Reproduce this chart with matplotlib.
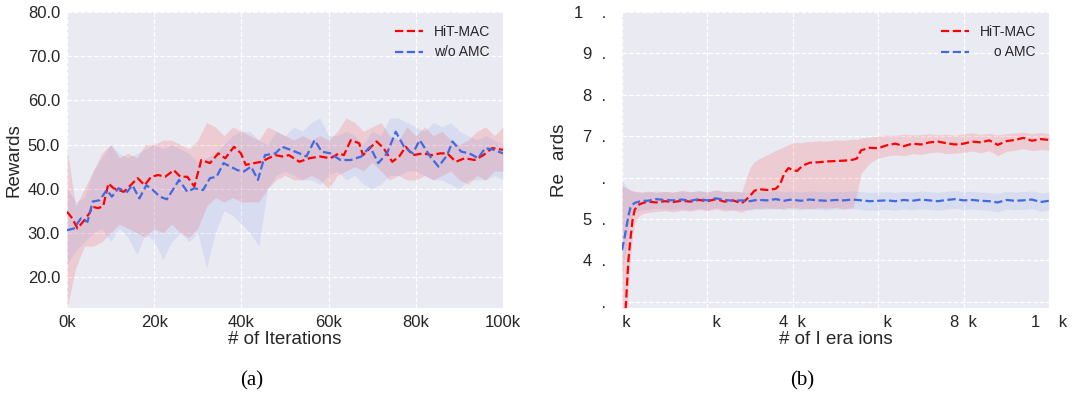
import matplotlib
matplotlib.use('Agg')
import matplotlib.pyplot as plt
import seaborn as sns

# ---- panel (a): rewards vs iterations (k) ----
hit_x = [0, 1.2, 2.4, 4.0, 5.1, 5.9, 7.1, 8.3, 9.5, 10.7, 13.0, 14.6, 16.2, 17.8, 19.3, 20.9,
         22.5, 24.5, 26.0, 27.6, 29.2, 30.8, 32.8, 34.7, 36.3, 38.3, 39.9, 41.0, 43.0, 44.6,
         46.2, 47.8, 49.3, 50.9, 53.3, 55.6, 58.0, 60.4, 62.4, 63.5, 65.1, 67.0, 67.9, 69.5,
         71.0, 72.6, 74.6, 76.2, 77.7, 79.3, 81.7, 83.7, 85.6, 87.2, 89.2, 91.2, 93.5, 95.5,
         97.5, 100]
hit_y = [34.8, 33.3, 31.0, 32.9, 34.4, 35.9, 35.6, 36.0, 41.2, 40.1, 39.3, 40.8, 42.4, 40.8,
         42.7, 43.1, 42.7, 44.2, 42.7, 42.7, 40.5, 46.5, 45.8, 48.0, 46.9, 49.5, 48.0, 45.4,
         45.8, 46.1, 46.9, 47.6, 47.3, 47.6, 46.1, 46.9, 47.3, 46.9, 48.0, 47.6, 51.0, 50.3,
         47.6, 49.2, 50.7, 49.2, 46.1, 47.3, 49.5, 47.6, 48.0, 47.6, 48.0, 48.0, 46.1, 46.9,
         46.5, 47.6, 49.2, 48.8]

amc_x = [0, 1.6, 3.2, 4.7, 5.9, 7.5, 9.1, 10.3, 11.8, 13.8, 15.0, 16.6, 18.2, 19.7, 21.3,
         22.9, 24.5, 25.7, 27.6, 29.2, 31.2, 32.8, 34.3, 35.9, 37.5, 39.1, 40.6, 42.2, 43.8,
         45.4, 47.8, 49.3, 51.3, 53.3, 54.9, 56.8, 58.4, 60.4, 62.7, 65.1, 67.5, 69.5, 71.4,
         73.4, 75.4, 77.3, 79.3, 80.9, 83.3, 85.2, 87.2, 88.4, 90.4, 92.3, 94.3, 95.9, 97.9, 100]
amc_y = [30.6, 31.0, 33.3, 32.5, 37.1, 37.4, 39.7, 38.2, 40.1, 39.3, 40.8, 37.8, 40.8, 39.7,
         38.2, 37.6, 40.1, 42.0, 39.3, 40.1, 39.7, 42.4, 42.7, 45.8, 45.0, 44.2, 43.9, 45.0,
         42.0, 47.6, 48.0, 49.5, 48.8, 48.0, 47.3, 51.0, 48.4, 48.0, 46.5, 46.5, 47.3, 49.5,
         45.8, 48.0, 52.9, 49.5, 48.0, 51.0, 47.3, 45.0, 47.6, 50.7, 48.4, 48.0, 46.9, 49.2,
         48.8, 48.0]

band_x = list(range(0, 101, 2))
hit_hi = [49, 36, 40, 44, 48, 50, 47, 48, 47, 50, 50, 51, 51, 50, 49, 51, 55, 54, 52, 54,
          53, 52, 51, 54, 53, 52, 51, 52, 51, 52, 51, 53, 56, 55, 53, 54, 55, 52, 51, 54,
          52, 54, 52, 53, 51, 50, 51, 53, 54, 52, 54]
hit_lo = [13, 22, 27, 27, 28, 30, 32, 31, 30, 29, 31, 30, 32, 30, 29, 31, 36, 38, 37, 38,
          37, 37, 37, 40, 42, 43, 42, 42, 43, 42, 40, 43, 44, 45, 44, 46, 44, 42, 43, 42,
          42, 43, 42, 43, 44, 42, 41, 43, 42, 44, 44]
amc_hi = [40, 37, 38, 44, 47, 50, 48, 47, 48, 49, 50, 49, 50, 49, 48, 46, 47, 48, 50, 52,
          53, 53, 51, 50, 53, 52, 54, 53, 55, 56, 52, 52, 53, 52, 50, 53, 52, 56, 56, 55,
          54, 53, 55, 54, 55, 53, 52, 51, 52, 51, 50]
amc_lo = [23, 26, 28, 30, 31, 28, 31, 29, 25, 30, 28, 24, 28, 30, 28, 30, 22, 30, 35, 34,
          32, 30, 27, 40, 43, 44, 43, 42, 42, 41, 43, 44, 42, 43, 41, 40, 41, 43, 43, 44,
          44, 43, 42, 42, 41, 40, 42, 42, 42, 43, 42]

# ---- panel (b) ----
xr = [0, 0.5, 1, 1.5, 2, 2.5, 3, 4, 5, 6, 8, 10, 12, 14, 16, 18, 20, 22, 24, 26, 28,
      29, 30, 31, 32, 34, 36, 37, 38, 39, 40, 41, 42, 43, 44, 46, 48, 50, 52, 54, 55, 56,
      58, 60, 62, 64, 66, 68, 70, 72, 74, 76, 78, 80, 82, 84, 86, 88, 90, 92, 94, 96, 98, 100]
hit_r = [14, 22, 31, 40, 45.5, 50, 52.3, 53.5, 53.9, 54.2, 54.0, 54.3, 54.1, 54.4, 54.2,
         54.6, 54.3, 54.8, 54.2, 54.5, 53.8, 54.6, 55.6, 56.8, 57.2, 57.0, 57.3, 58.3, 61.0,
         62.3, 61.8, 61.6, 62.6, 63.2, 63.6, 63.7, 63.9, 64.0, 64.1, 64.3, 64.6, 66.6, 67.2,
         67.1, 67.8, 68.2, 67.6, 68.2, 68.0, 68.5, 68.7, 68.3, 68.0, 68.2, 68.7, 68.5, 69.0,
         67.9, 68.8, 69.1, 69.6, 68.9, 69.3, 69.1]
amc_r = [42.5, 45, 47.8, 50.8, 52.8, 53.5, 53.9, 54.2, 54.4, 54.4, 54.8, 54.6, 54.5, 54.7,
         54.4, 54.8, 54.5, 55.0, 54.6, 54.4, 54.5, 54.4, 54.3, 54.5, 54.6, 54.5, 54.8, 54.6,
         54.4, 54.6, 54.7, 54.5, 54.4, 54.6, 54.7, 54.5, 54.4, 54.6, 54.5, 54.7, 54.6, 54.5,
         54.3, 54.4, 54.5, 54.3, 54.6, 54.4, 54.7, 54.5, 54.3, 54.6, 54.8, 54.5, 54.6, 54.4,
         54.3, 54.0, 54.6, 54.4, 54.5, 54.7, 54.1, 54.4]
hit_r_hi = [58.2, 57.8, 57.5, 57.2, 57.0, 56.8, 56.7, 56.6, 56.5, 56.8, 56.4, 56.7, 56.5,
            56.9, 56.6, 56.8, 56.5, 57.0, 56.6, 56.8, 56.5, 59.5, 62.5, 63.8, 64.5, 65.5,
            66.6, 67.0, 67.5, 68.0, 68.3, 68.5, 68.4, 68.7, 68.7, 68.9, 68.8, 69.1, 69.0,
            69.3, 69.2, 69.6, 69.8, 70.0, 70.3, 70.2, 70.5, 70.3, 70.4, 70.6, 70.3, 70.5,
            70.2, 70.6, 70.8, 70.4, 70.7, 70.3, 70.6, 70.8, 71.0, 70.6, 70.9, 70.6]
hit_r_lo = [5, 10, 22, 33, 41, 46, 49, 50.8, 51.3, 51.6, 51.8, 52.0, 51.7, 52.1, 51.9, 52.3,
            52.0, 52.4, 51.9, 52.2, 51.6, 52.2, 52.4, 52.6, 52.5, 52.7, 52.4, 52.6, 52.5,
            52.8, 52.6, 52.7, 52.5, 52.6, 52.4, 52.7, 52.6, 52.8, 52.5, 52.7, 56.0, 61.0,
            63.5, 64.7, 65.2, 65.5, 65.3, 65.8, 65.6, 66.0, 66.2, 65.8, 65.9, 66.1, 66.4,
            66.0, 66.5, 65.3, 66.3, 66.6, 67.0, 66.5, 66.8, 66.6]
amc_r_hi = [59.5, 58.5, 57.8, 57.3, 57.0, 56.8, 56.6, 56.4, 56.5, 56.5, 56.8, 56.6, 56.5,
            56.8, 56.5, 56.9, 56.6, 57.0, 56.7, 56.5, 56.6, 56.4, 56.4, 56.6, 56.7, 56.6,
            56.9, 56.7, 56.5, 56.7, 56.8, 56.6, 56.5, 56.7, 56.8, 56.6, 56.5, 56.7, 56.6,
            56.8, 56.7, 56.6, 56.4, 56.5, 56.6, 56.4, 56.7, 56.5, 56.8, 56.6, 56.4, 56.7,
            56.9, 56.6, 56.7, 56.5, 56.4, 56.2, 56.7, 56.5, 56.6, 56.8, 56.3, 56.5]
amc_r_lo = [36, 40, 44, 47.5, 50, 51, 51.5, 52, 52.3, 52.3, 52.6, 52.4, 52.3, 52.5, 52.2,
            52.6, 52.3, 52.8, 52.4, 52.2, 52.3, 52.2, 52.1, 52.3, 52.4, 52.3, 52.6, 52.4,
            52.2, 52.4, 52.5, 52.3, 52.2, 52.4, 52.5, 52.3, 52.2, 52.4, 52.3, 52.5, 52.4,
            52.3, 52.1, 52.2, 52.3, 52.1, 52.4, 52.2, 52.5, 52.3, 52.1, 52.4, 52.6, 52.3,
            52.4, 52.2, 52.1, 51.7, 52.4, 52.2, 52.3, 52.5, 51.8, 52.2]

xticks = [0, 20, 40, 60, 80, 100]
xlabels_a = ['0k', '20k', '40k', '60k', '80k', '100k']
yticks_a = [20, 30, 40, 50, 60, 70, 80]
ylabels_a = ['20.0', '30.0', '40.0', '50.0', '60.0', '70.0', '80.0']
# panel (b) is rendered with missing glyphs in the source picture
F = '\u2007'
xlabels_b = [F + 'k', F + F + 'k', '4' + F + 'k', F + F + 'k', '8' + F + 'k', '1' + F + F + 'k']
yticks_b = [30, 40, 50, 60, 70, 80, 90, 100]
ylabels_b = [F + F + '.' + F, '4' + F + '.' + F, '5' + F + '.' + F, F + F + '.' + F,
             '7' + F + '.' + F, '8' + F + '.' + F, '9' + F + '.' + F, '1' + F + F + '.' + F]

sns.set_style('darkgrid', {'grid.linestyle': '--'})
plt.rcParams['font.family'] = ['Liberation Sans', 'DejaVu Sans']
plt.rcParams['text.color'] = '.15'

RED = '#ff0000'
BLUE = '#4169e1'

fig = plt.figure(figsize=(10.72, 3.94), dpi=100)
ax1 = fig.add_axes([67 / 1072, 1 - 308 / 394, 436 / 1072, 296 / 394])
ax2 = fig.add_axes([622 / 1072, 1 - 308 / 394, 427 / 1072, 296 / 394])

for ax in (ax1, ax2):
    ax.grid(True, color='white', linestyle='--', linewidth=0.9)
    ax.tick_params(axis='both', labelsize=12, pad=5, colors='.15', length=0)
    for s in ax.spines.values():
        s.set_visible(False)

ax1.fill_between(band_x, hit_lo, hit_hi, color=RED, alpha=0.13, linewidth=0)
ax1.fill_between(band_x, amc_lo, amc_hi, color=BLUE, alpha=0.10, linewidth=0)
ax1.plot(hit_x, hit_y, '--', color=RED, lw=1.6, label='HiT-MAC')
ax1.plot(amc_x, amc_y, '--', color=BLUE, lw=1.6, label='w/o AMC')
ax1.set_xlim(0, 100)
ax1.set_ylim(13, 80)
ax1.set_xticks(xticks)
ax1.set_xticklabels(xlabels_a)
ax1.set_yticks(yticks_a)
ax1.set_yticklabels(ylabels_a)
ax1.set_xlabel('# of Iterations', fontsize=13.5, labelpad=1)
ax1.set_ylabel('Rewards', fontsize=13.5, labelpad=4)
ax1.legend(loc='upper right', frameon=False, fontsize=10)

ax2.fill_between(xr, hit_r_lo, hit_r_hi, color=RED, alpha=0.13, linewidth=0)
ax2.fill_between(xr, amc_r_lo, amc_r_hi, color=BLUE, alpha=0.10, linewidth=0)
ax2.plot(xr, hit_r, '--', color=RED, lw=1.6, label='HiT-MAC')
ax2.plot(xr, amc_r, '--', color=BLUE, lw=1.6, label='\u2003o AMC')
ax2.set_xlim(0, 100)
ax2.set_ylim(28.5, 100)
ax2.set_xticks(xticks)
ax2.set_xticklabels(xlabels_b)
ax2.set_yticks(yticks_b)
ax2.set_yticklabels(ylabels_b)
ax2.set_xlabel('# of I era ions', fontsize=13.5, labelpad=1)
ax2.set_ylabel('Re\u2002\u2009ards', fontsize=13.5, labelpad=4)
ax2.legend(loc='upper right', frameon=False, fontsize=10)

fig.text(252 / 1072, 1 - 381 / 394, '(a)', family='Liberation Serif', fontsize=15,
         ha='center', va='center', color='black')
fig.text(802 / 1072, 1 - 381 / 394, '(b)', family='Liberation Serif', fontsize=15,
         ha='center', va='center', color='black')

fig.savefig('out.png', dpi=100)
